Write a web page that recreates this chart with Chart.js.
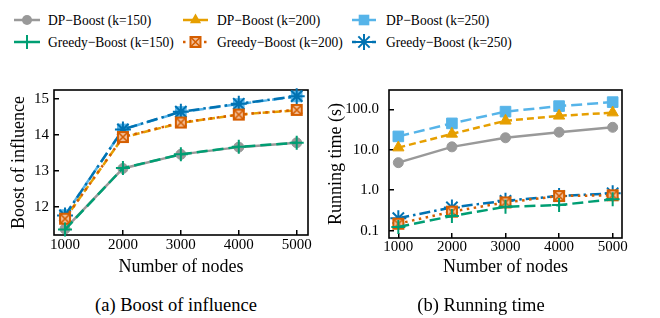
<!DOCTYPE html>
<html><head><meta charset="utf-8">
<script src="https://cdn.jsdelivr.net/npm/chart.js@4.4.1/dist/chart.umd.min.js"></script>
<style>
html,body{margin:0;padding:0;background:#fff;}
body{width:660px;height:318px;position:relative;overflow:hidden;font-family:'Liberation Serif',serif;color:#000;}
.c{position:absolute;}
.lg{position:absolute;font-family:'Liberation Serif',serif;font-size:15px;line-height:16px;white-space:nowrap;font-weight:normal;transform:scaleX(0.9);transform-origin:0 50%;}
.cap{position:absolute;font-family:'Liberation Serif',serif;font-size:18.5px;line-height:22px;white-space:nowrap;transform:translateX(-50%);}
</style></head><body>
<svg id="lsvg" width="660" height="60" style="position:absolute;left:0;top:0"></svg>
<div id="lgtext"></div>
<div class="c" style="left:0;top:80px;width:330px;height:200px"><canvas id="c1" width="330" height="200"></canvas></div>
<div class="c" style="left:310px;top:80px;width:350px;height:200px"><canvas id="c2" width="350" height="200"></canvas></div>
<div class="cap" style="left:176px;top:294px">(a) Boost of influence</div>
<div class="cap" style="left:481px;top:294px">(b) Running time</div>
<script>
// ---- data ----
const nodes = [1000, 2000, 3000, 4000, 5000];
const xTickLabels = ['1000', '2000', '3000', '4000', '5000'];
const seriesNames = ['DP\u2212Boost (k=150)', 'DP\u2212Boost (k=200)', 'DP\u2212Boost (k=250)',
                     'Greedy\u2212Boost (k=150)', 'Greedy\u2212Boost (k=200)', 'Greedy\u2212Boost (k=250)'];
const boostDP150 = [11.40, 13.07, 13.46, 13.66, 13.78];
const boostDP200 = [11.68, 13.93, 14.33, 14.56, 14.68];
const boostDP250 = [11.78, 14.15, 14.63, 14.85, 15.06];
const boostGreedy150 = [11.38, 13.08, 13.46, 13.67, 13.78];
const boostGreedy200 = [11.68, 13.94, 14.34, 14.56, 14.69];
const boostGreedy250 = [11.77, 14.15, 14.64, 14.86, 15.07];
const timeDP150 = [4.8, 11.8, 19.8, 27.2, 35.9];
const timeDP200 = [11.3, 24.7, 52, 69, 82.8];
const timeDP250 = [21.4, 44.9, 87.6, 120, 150.6];
const timeGreedy150 = [0.124, 0.23, 0.39, 0.43, 0.6];
const timeGreedy200 = [0.149, 0.296, 0.5, 0.72, 0.75];
const timeGreedy250 = [0.204, 0.377, 0.547, 0.72, 0.84];
const boostTicks = [12, 13, 14, 15];
const boostTickLabels = ['12', '13', '14', '15'];
const timeTicks = [0.1, 1, 10, 100];
const timeTickLabels = ['0.1', '1.0', '10.0', '100.0'];

// ---- styles ----
function boxX() {
  const c = document.createElement('canvas');
  c.width = 14; c.height = 14;
  const g = c.getContext('2d');
  g.fillStyle = '#F2BE98';
  g.fillRect(1.5, 1.5, 11, 11);
  g.strokeStyle = '#D55E00';
  g.lineWidth = 2;
  g.strokeRect(2, 2, 10, 10);
  g.lineWidth = 1.6;
  g.beginPath(); g.moveTo(2.5, 2.5); g.lineTo(11.5, 11.5); g.moveTo(11.5, 2.5); g.lineTo(2.5, 11.5); g.stroke();
  return c;
}
const styles = [
  {color: '#999999', dash: [], point: 'circle', r: 5, pbw: 1},
  {color: '#E69F00', dash: [7, 4], point: 'triangle', r: 6.5, pbw: 1},
  {color: '#56B4E9', dash: [11, 5], point: 'rect', r: 7.5, pbw: 1},
  {color: '#009E73', dash: [11, 5], point: 'cross', r: 7, pbw: 2},
  {color: '#D55E00', dash: [2.5, 4.5], point: boxX(), r: 7, pbw: 1},
  {color: '#0072B2', dash: [11, 4, 2.5, 4], point: 'star', r: 8, pbw: 2}
];

function ds(i, vals) {
  const s = styles[i];
  return {
    label: seriesNames[i],
    data: nodes.map((n, k) => ({x: n, y: vals[k]})),
    borderColor: s.color, backgroundColor: s.color,
    borderWidth: 2.5, borderDash: s.dash, borderCapStyle: 'butt',
    pointStyle: s.point, pointRadius: s.r, pointBorderWidth: s.pbw,
    pointBorderColor: s.color, pointBackgroundColor: s.color,
    tension: 0, clip: false, order: i < 3 ? 1 : 0
  };
}

const framePlugin = {
  id: 'frame',
  beforeDatasetsDraw(chart) {
    const {ctx, chartArea: a} = chart;
    ctx.save();
    ctx.strokeStyle = '#000'; ctx.lineWidth = 1.6;
    ctx.strokeRect(a.left, a.top, a.right - a.left, a.bottom - a.top);
    ctx.restore();
  }
};

Chart.defaults.font.family = "'Liberation Serif', serif";
Chart.defaults.color = '#000';

function noPad(s) { s.paddingTop = 0; s.paddingBottom = 0; s.paddingLeft = 0; s.paddingRight = 0; }

function xScale(min, max, h, pad) {
  return {
    type: 'linear', min: min, max: max,
    afterBuildTicks: s => { s.ticks = nodes.map(v => ({value: v})); },
    afterFit: s => { s.height = h; noPad(s); },
    ticks: {font: {size: 15}, color: '#000', padding: pad, maxRotation: 0, autoSkip: false,
            callback: (v, i) => xTickLabels[i]},
    grid: {drawOnChartArea: false, tickLength: -5, color: '#000', lineWidth: 1.5},
    border: {display: false},
    title: {display: true, text: 'Number of nodes', font: {size: 18}, color: '#000', padding: {top: 0, bottom: 2}}
  };
}

function common(padding, scales) {
  return {
    responsive: false, animation: false, devicePixelRatio: 1,
    layout: {padding: padding},
    plugins: {legend: {display: false}, tooltip: {enabled: false}},
    events: [],
    scales: scales
  };
}

new Chart(document.getElementById('c1'), {
  type: 'line',
  data: {datasets: [ds(0, boostDP150), ds(1, boostDP200), ds(2, boostDP250),
                    ds(3, boostGreedy150), ds(4, boostGreedy200), ds(5, boostGreedy250)]},
  options: common({top: 8, right: 22, left: 0, bottom: 0}, {
    x: xScale(810, 5195, 45, 6),
    y: {
      type: 'linear', min: 11.23, max: 15.24,
      afterBuildTicks: s => { s.ticks = boostTicks.map(v => ({value: v})); },
      afterFit: s => { s.width = 54; noPad(s); },
      ticks: {font: {size: 15}, color: '#000', padding: 10, callback: (v, i) => boostTickLabels[i]},
      grid: {drawOnChartArea: false, tickLength: -5, color: '#000', lineWidth: 1.5},
      border: {display: false},
      title: {display: true, text: 'Boost of influence', font: {size: 18}, color: '#000', padding: {top: 8, bottom: 0}}
    }
  }),
  plugins: [framePlugin]
});

new Chart(document.getElementById('c2'), {
  type: 'line',
  data: {datasets: [ds(0, timeDP150), ds(1, timeDP200), ds(2, timeDP250),
                    ds(3, timeGreedy150), ds(4, timeGreedy200), ds(5, timeGreedy250)]},
  options: common({top: 7, right: 38, left: 0, bottom: 0}, {
    x: xScale(826, 5174, 42, 5),
    y: {
      type: 'logarithmic', min: 0.066, max: 300,
      afterBuildTicks: s => { s.ticks = timeTicks.map(v => ({value: v})); },
      afterFit: s => { s.width = 79; noPad(s); },
      ticks: {font: {size: 15}, color: '#000', padding: 15, callback: (v, i) => timeTickLabels[i]},
      grid: {drawOnChartArea: false, tickLength: -5, color: '#000', lineWidth: 1.5},
      border: {display: false},
      title: {display: true, text: 'Running time (s)', font: {size: 18}, color: '#000', padding: {top: 15, bottom: 0}}
    }
  }),
  plugins: [framePlugin]
});

// ---- legend (HTML/SVG) ----
(function () {
  const svg = document.getElementById('lsvg');
  const NS = 'http://www.w3.org/2000/svg';
  const cols = [{x0: 14, x1: 40, tx: 48}, {x0: 183, x1: 208, tx: 217}, {x0: 352, x1: 376, tx: 386}];
  const rows = [20, 42];
  function el(tag, attrs) { const e = document.createElementNS(NS, tag); for (const k in attrs) e.setAttribute(k, attrs[k]); svg.appendChild(e); return e; }
  const holder = document.getElementById('lgtext');
  for (let i = 0; i < 6; i++) {
    const col = cols[i % 3], y = rows[Math.floor(i / 3)], s = styles[i];
    const cx = (col.x0 + col.x1) / 2;
    el('line', {x1: col.x0, y1: y, x2: col.x1, y2: y, stroke: s.color, 'stroke-width': 2.5,
      'stroke-dasharray': i === 4 ? '2.5 4.5' : 'none'});
    if (i === 0) el('circle', {cx: cx, cy: y, r: 5, fill: s.color});
    if (i === 1) el('polygon', {points: `${cx},${y - 6.5} ${cx + 5.6},${y + 3.3} ${cx - 5.6},${y + 3.3}`, fill: s.color});
    if (i === 2) el('rect', {x: cx - 5.3, y: y - 5.3, width: 10.6, height: 10.6, fill: s.color});
    if (i === 3) { el('line', {x1: cx - 7, y1: y, x2: cx + 7, y2: y, stroke: s.color, 'stroke-width': 2}); el('line', {x1: cx, y1: y - 7, x2: cx, y2: y + 7, stroke: s.color, 'stroke-width': 2}); }
    if (i === 4) {
      el('rect', {x: cx - 7, y: y - 7, width: 14, height: 14, fill: '#fff'});
      el('rect', {x: cx - 5, y: y - 5, width: 10, height: 10, fill: '#F2BE98', stroke: s.color, 'stroke-width': 2});
      el('path', {d: `M${cx - 4.5},${y - 4.5}L${cx + 4.5},${y + 4.5}M${cx + 4.5},${y - 4.5}L${cx - 4.5},${y + 4.5}`, stroke: s.color, 'stroke-width': 1.6});
    }
    if (i === 5) {
      el('rect', {x: cx - 8, y: y - 8, width: 16, height: 16, fill: '#fff'});
      for (let a = 0; a < 4; a++) {
        const t = a * Math.PI / 4, dx = 8 * Math.cos(t), dy = 8 * Math.sin(t);
        el('line', {x1: cx - dx, y1: y - dy, x2: cx + dx, y2: y + dy, stroke: s.color, 'stroke-width': 2});
      }
    }
    const d = document.createElement('div');
    d.className = 'lg';
    d.style.left = col.tx + 'px';
    d.style.top = (y - 8) + 'px';
    d.textContent = seriesNames[i];
    holder.appendChild(d);
  }
})();
</script>
</body></html>
